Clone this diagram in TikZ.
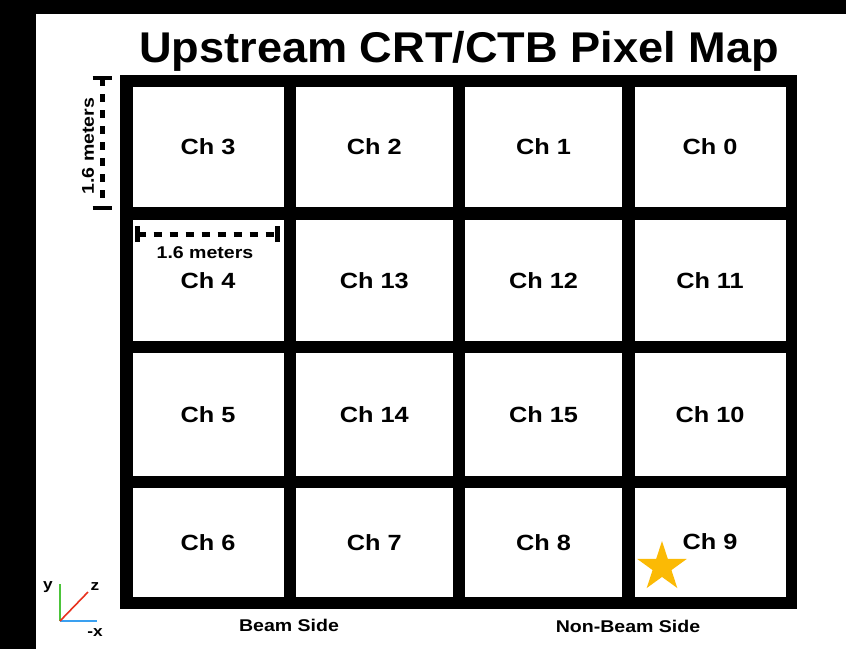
\documentclass[tikz,border=0pt]{standalone}
\usepackage{fontspec}
\setmainfont{Liberation Sans}
\newfontfamily\wfont{Liberation Sans}[FakeStretch=1.15]
\newfontfamily\tfont{Liberation Sans}[FakeStretch=1.05]
\usetikzlibrary{shapes.geometric}
\definecolor{stargold}{HTML}{FBBA05}
\definecolor{axgreen}{HTML}{4CC43A}
\definecolor{axblue}{HTML}{3AA0F0}
\definecolor{axred}{HTML}{E8321E}
\tikzset{
  cell/.style={fill=white, inner sep=0pt, font=\wfont\bfseries\fontsize{22}{22}\selectfont},
  dimtext/.style={inner sep=0pt, font=\wfont\bfseries\fontsize{17}{17}\selectfont},
  sidetext/.style={inner sep=0pt, font=\wfont\bfseries\fontsize{17}{17}\selectfont},
  axtext/.style={inner sep=0pt, font=\wfont\bfseries\fontsize{15}{15}\selectfont},
  dimline/.style={line width=5pt, dash pattern=on 8pt off 8pt},
  dimcap/.style={line width=4.5pt},
  axis/.style={line width=1.6pt}
}
\begin{document}
\begin{tikzpicture}[x=1pt,y=-1pt]
\useasboundingbox (0,0) rectangle (846,649);
\fill[white] (0,0) rectangle (846,649);
\fill[black] (0,0) rectangle (846,14);
\fill[black] (0,0) rectangle (36,649);
% title
\node[inner sep=0pt, anchor=base, font=\tfont\bfseries\fontsize{43}{43}\selectfont] (title) at (459,62) {Upstream CRT/CTB Pixel Map};
% frame
\fill[black] (120,75) rectangle (797,609);
% row 1
\node[cell, minimum width=151pt, minimum height=120pt] (c3) at (208,147) {Ch 3};
\node[cell, minimum width=156.5pt, minimum height=120pt] (c2) at (374.25,147) {Ch 2};
\node[cell, minimum width=157pt, minimum height=120pt] (c1) at (543.5,147) {Ch 1};
\node[cell, minimum width=151pt, minimum height=120pt] (c0) at (710,147) {Ch 0};
% row 2
\node[cell, minimum width=151pt, minimum height=121.5pt] (c4) at (208,280.25) {\raisebox{-2pt}{Ch 4}};
\node[cell, minimum width=156.5pt, minimum height=121.5pt] (c13) at (374.25,280.25) {Ch 13};
\node[cell, minimum width=157pt, minimum height=121.5pt] (c12) at (543.5,280.25) {Ch 12};
\node[cell, minimum width=151pt, minimum height=121.5pt] (c11) at (710,280.25) {Ch 11};
% row 3
\node[cell, minimum width=151pt, minimum height=123pt] (c5) at (208,414.5) {Ch 5};
\node[cell, minimum width=156.5pt, minimum height=123pt] (c14) at (374.25,414.5) {Ch 14};
\node[cell, minimum width=157pt, minimum height=123pt] (c15) at (543.5,414.5) {Ch 15};
\node[cell, minimum width=151pt, minimum height=123pt] (c10) at (710,414.5) {Ch 10};
% row 4
\node[cell, minimum width=151pt, minimum height=109pt] (c6) at (208,542.5) {Ch 6};
\node[cell, minimum width=156.5pt, minimum height=109pt] (c7) at (374.25,542.5) {Ch 7};
\node[cell, minimum width=157pt, minimum height=109pt] (c8) at (543.5,542.5) {Ch 8};
\node[cell, minimum width=151pt, minimum height=109pt] (c9) at (710,542.5) {\raisebox{1pt}{Ch 9}};
% star
\node[star, star points=5, star point ratio=2.618, fill=stargold, minimum size=52pt, inner sep=0pt] (star) at (662,567) {};
% vertical dimension
\coordinate (vt) at (102,78);
\coordinate (vb) at (102,208);
\draw[dimline] (vt) -- (vb);
\draw[dimcap] ([xshift=-9.5pt]vt) -- ([xshift=9.5pt]vt);
\draw[dimcap] ([xshift=-9.5pt]vb) -- ([xshift=9.5pt]vb);
\node[dimtext, rotate=90] (vlab) at (88,146) {1.6 meters};
% horizontal dimension
\coordinate (hl) at (137.5,234);
\coordinate (hr) at (277.5,234);
\draw[dimline] (hl) -- (hr);
\draw[dimcap, line width=5pt] ([yshift=-8pt]hl) -- ([yshift=8pt]hl);
\draw[dimcap, line width=5pt] ([yshift=-8pt]hr) -- ([yshift=8pt]hr);
\node[dimtext] (hlab) at (205,253) {1.6 meters};
% bottom labels
\node[sidetext] (beam) at (289,625) {Beam Side};
\node[sidetext] (nonbeam) at (628,626) {Non-Beam Side};
% axes
\coordinate (o) at (60,621);
\coordinate (ay) at (60,584);
\coordinate (ax) at (97,621);
\coordinate (az) at (88,592);
\draw[axis, axgreen] (o) -- (ay);
\draw[axis, axblue] (o) -- (ax);
\draw[axis, axred] (o) -- (az);
\node[axtext] (ly) at (48,587) {y};
\node[axtext] (lz) at (95,587) {z};
\node[axtext] (lx) at (95,633) {-x};
\end{tikzpicture}
\end{document}
